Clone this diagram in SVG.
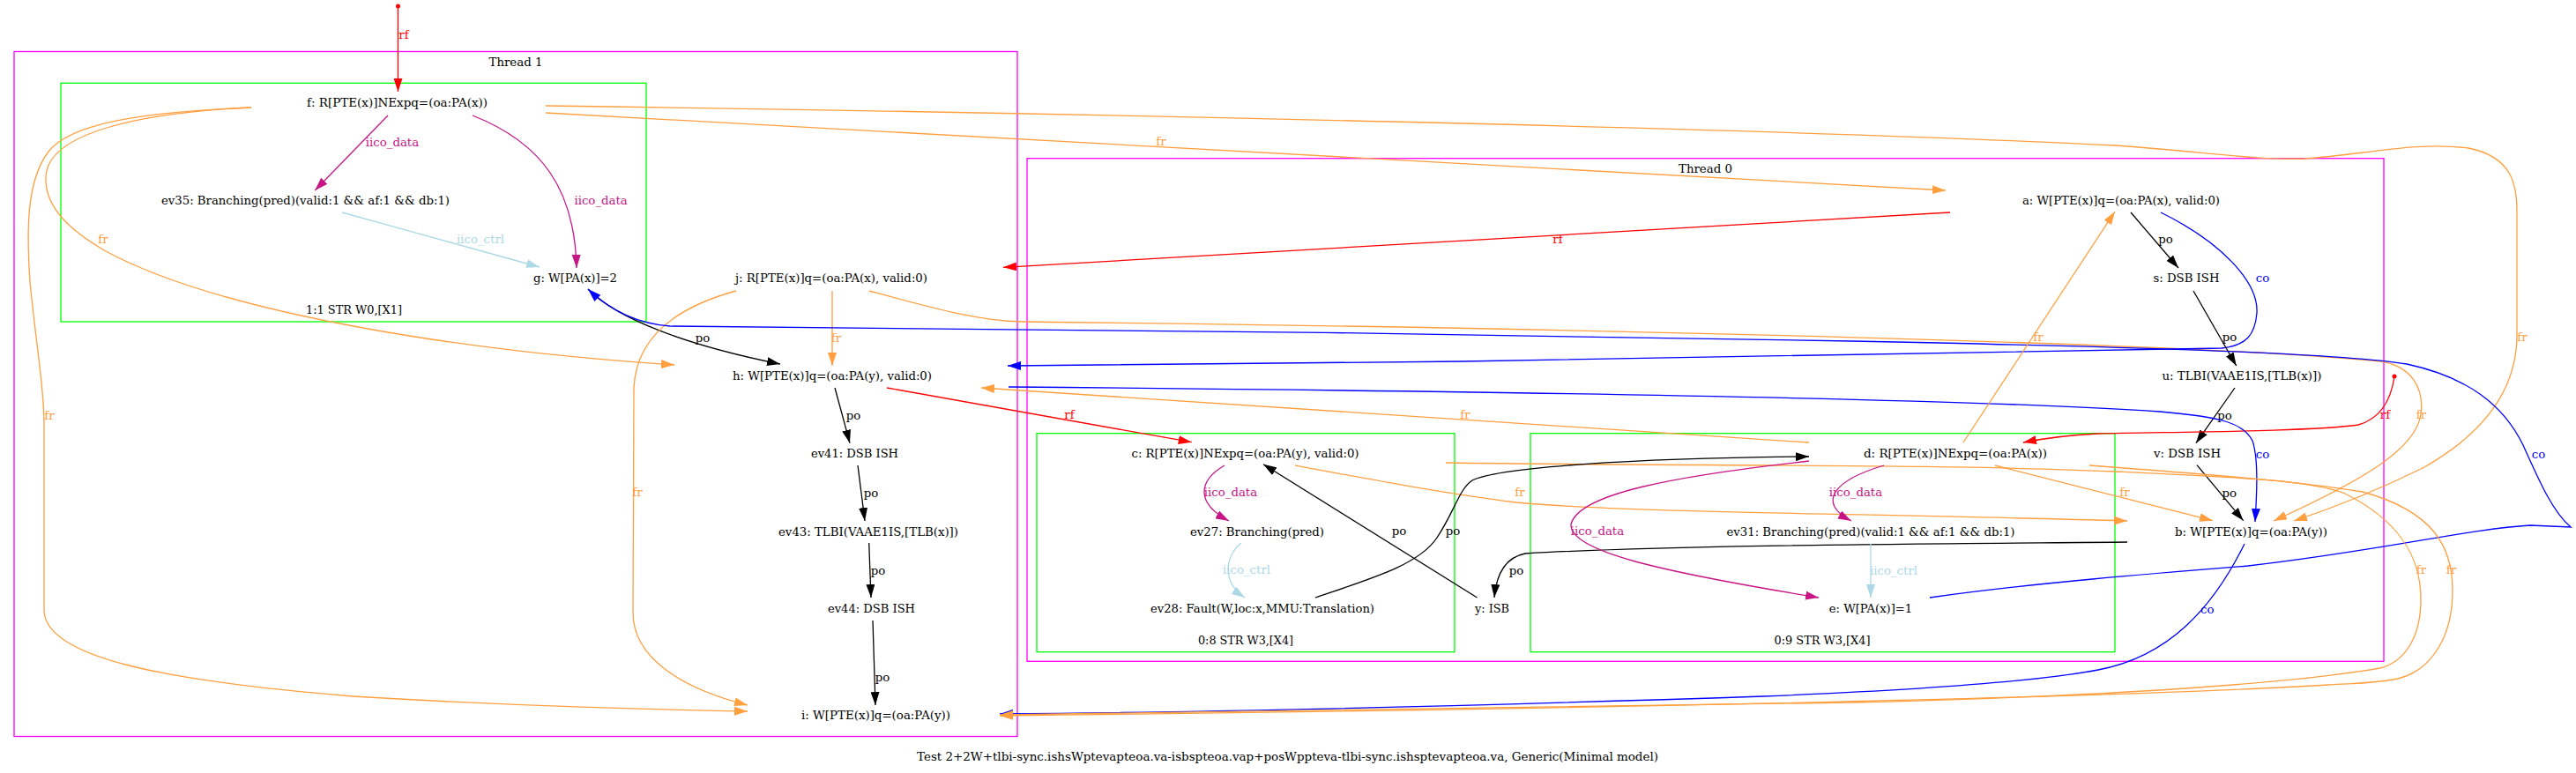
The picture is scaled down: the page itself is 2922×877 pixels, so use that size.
<svg xmlns="http://www.w3.org/2000/svg" width="2922" height="877" viewBox="0 0 2922 877">
<defs>
<style>
text{font-family:"DejaVu Serif","Liberation Serif",serif;font-size:13.3px;text-anchor:middle;fill:#000}
.cl{fill:none;stroke-width:1.3}
.th{stroke:#ff00ff}
.gr{stroke:#00ff00}
path.e{fill:none;stroke-width:1.3}
.red{stroke:#ff0000}.blk{stroke:#000000}.org{stroke:#ff9f3f}.blu{stroke:#0000ff}.mag{stroke:#c71585}.lb{stroke:#add8e6}
text.tred{fill:#ff0000}text.torg{fill:#ff9f3f}text.tblu{fill:#0000ff}text.tmag{fill:#c71585}text.tlb{fill:#add8e6}
</style>
<marker id="m-red" markerUnits="userSpaceOnUse" markerWidth="15" markerHeight="10" refX="15" refY="5" orient="auto"><path d="M0,0L15,5L0,10z" fill="#ff0000"/></marker>
<marker id="m-blk" markerUnits="userSpaceOnUse" markerWidth="15" markerHeight="10" refX="15" refY="5" orient="auto"><path d="M0,0L15,5L0,10z" fill="#000000"/></marker>
<marker id="m-org" markerUnits="userSpaceOnUse" markerWidth="15" markerHeight="10" refX="15" refY="5" orient="auto"><path d="M0,0L15,5L0,10z" fill="#ff9f3f"/></marker>
<marker id="m-blu" markerUnits="userSpaceOnUse" markerWidth="15" markerHeight="10" refX="15" refY="5" orient="auto"><path d="M0,0L15,5L0,10z" fill="#0000ff"/></marker>
<marker id="m-mag" markerUnits="userSpaceOnUse" markerWidth="15" markerHeight="10" refX="15" refY="5" orient="auto"><path d="M0,0L15,5L0,10z" fill="#c71585"/></marker>
<marker id="m-lb" markerUnits="userSpaceOnUse" markerWidth="15" markerHeight="10" refX="15" refY="5" orient="auto"><path d="M0,0L15,5L0,10z" fill="#add8e6"/></marker>
</defs>
<rect x="0" y="0" width="2922" height="877" fill="#ffffff"/>

<g id="clusters">
<g id="thread1"><rect class="cl th" x="16" y="58.5" width="1138" height="777"/><text x="585" y="75" textLength="61" lengthAdjust="spacingAndGlyphs">Thread 1</text></g>
<g id="instr-1-1"><rect class="cl gr" x="69" y="94.3" width="664" height="270.7"/><text x="401.5" y="356" textLength="109" lengthAdjust="spacingAndGlyphs">1:1 STR W0,[X1]</text></g>
<g id="thread0"><rect class="cl th" x="1165" y="179.7" width="1539" height="570.6"/><text x="1934.5" y="196" textLength="61" lengthAdjust="spacingAndGlyphs">Thread 0</text></g>
<g id="instr-0-8"><rect class="cl gr" x="1176" y="491.7" width="474" height="248"/><text x="1413" y="731" textLength="108" lengthAdjust="spacingAndGlyphs">0:8 STR W3,[X4]</text></g>
<g id="instr-0-9"><rect class="cl gr" x="1736" y="491.7" width="663" height="248"/><text x="2067" y="731" textLength="109" lengthAdjust="spacingAndGlyphs">0:9 STR W3,[X4]</text></g>
</g>

<g id="edges">
<!-- rf init -> f -->
<g class="edge"><circle cx="451.5" cy="7" r="2.5" fill="#ff0000"/><path class="e red" d="M451.5,7 L451.5,104" marker-end="url(#m-red)"/><text class="tred" x="458" y="44">rf</text></g>
<!-- iico_data f -> ev35 -->
<g class="edge"><path class="e mag" d="M440,131 L357.3,216" marker-end="url(#m-mag)"/><text class="tmag" x="445" y="165.5">iico_data</text></g>
<!-- iico_data f -> g -->
<g class="edge"><path class="e mag" d="M536,131 C615,162 652,215 654,304" marker-end="url(#m-mag)"/><text class="tmag" x="681.6" y="232">iico_data</text></g>
<!-- iico_ctrl ev35 -> g -->
<g class="edge"><path class="e lb" d="M388,241 L612,303" marker-end="url(#m-lb)"/><text class="tlb" x="545" y="276">iico_ctrl</text></g>
<!-- po g -> h -->
<g class="edge"><path class="e blk" d="M667,328 C700,362 780,392 885,413" marker-end="url(#m-blk)"/><text x="797" y="388">po</text></g>
<!-- fr f -> h -->
<g class="edge"><path class="e org" d="M285,122 C160,128 55,150 52,200 C50,235 80,262 120,285 C250,355 520,398 765,414" marker-end="url(#m-org)"/><text class="torg" x="117" y="276">fr</text></g>
<!-- fr f -> i -->
<g class="edge"><path class="e org" d="M285,122 C160,127 80,140 55,172 C30,205 30,260 34,320 C42,400 50,440 50,480 L50,693 C52,745 180,772 400,790 C600,802 750,805 848,807" marker-end="url(#m-org)"/><text class="torg" x="56" y="475.5">fr</text></g>
<!-- fr j -> h -->
<g class="edge"><path class="e org" d="M944,330 L944,415" marker-end="url(#m-org)"/><text class="torg" x="948.5" y="388">fr</text></g>
<!-- fr j -> i -->
<g class="edge"><path class="e org" d="M835,330 C780,345 722,375 719,440 L718,695 C718,745 770,780 848,800" marker-end="url(#m-org)"/><text class="torg" x="723" y="563">fr</text></g>
<!-- fr j -> b -->
<g class="edge"><path class="e org" d="M986,330 C1060,350 1110,364 1160,365 C1800,372 2500,390 2700,410 C2735,415 2750,440 2746,470 C2740,510 2680,545 2579,591" marker-end="url(#m-org)"/><text class="torg" x="2746.4" y="474.5">fr</text></g>
<!-- fr f -> a -->
<g class="edge"><path class="e org" d="M619,128 L2207,216" marker-end="url(#m-org)"/><text class="torg" x="1317" y="165">fr</text></g>
<!-- fr f -> b -->
<g class="edge"><path class="e org" d="M619,120 C1200,128 2000,145 2400,165 C2500,172 2560,182 2614,180 C2680,176 2740,160 2800,168 C2850,178 2855,210 2855,240 L2855,380 C2855,440 2820,490 2750,530 C2700,555 2650,575 2602,591" marker-end="url(#m-org)"/><text class="torg" x="2861" y="387">fr</text></g>
<!-- rf a -> j -->
<g class="edge"><path class="e red" d="M2212,241 L1138,303.3" marker-end="url(#m-red)"/><text class="tred" x="1767" y="276">rf</text></g>
<!-- co a -> h -->
<g class="edge"><path class="e blu" d="M2451,241 C2520,275 2562,320 2560,355 C2558,380 2548,392 2520,395 C2300,402 1600,412 1143,415" marker-end="url(#m-blu)"/><text class="tblu" x="2566.6" y="320">co</text></g>
<!-- po a -> s -->
<g class="edge"><path class="e blk" d="M2417,241 L2471,304" marker-end="url(#m-blk)"/><text x="2456.5" y="276">po</text></g>
<!-- po s -> u -->
<g class="edge"><path class="e blk" d="M2488,330 L2536.7,415" marker-end="url(#m-blk)"/><text x="2529" y="387">po</text></g>
<!-- po u -> v -->
<g class="edge"><path class="e blk" d="M2535,440 L2491,502.7" marker-end="url(#m-blk)"/><text x="2523.6" y="475.5">po</text></g>
<!-- po v -> b -->
<g class="edge"><path class="e blk" d="M2492,527.7 L2544.6,590.7" marker-end="url(#m-blk)"/><text x="2528.8" y="563.5">po</text></g>
<!-- rf init -> d -->
<g class="edge"><circle cx="2716" cy="427" r="2.5" fill="#ff0000"/><path class="e red" d="M2716,427 C2712,455 2700,475 2675,482 C2620,490 2450,490 2380,492 C2340,494 2310,499 2295,502" marker-end="url(#m-red)"/><text class="tred" x="2705.5" y="474.5">rf</text></g>
<!-- co h -> b -->
<g class="edge"><path class="e blu" d="M1144,439 C1600,443 2200,450 2450,467 C2520,473 2545,480 2555,500 C2562,520 2560,560 2558,592" marker-end="url(#m-blu)"/><text class="tblu" x="2566.6" y="519.5">co</text></g>
<!-- co e -> g -->
<g class="edge"><path class="e blu" d="M2189,678 C2300,662 2450,650 2550,642 C2700,625 2800,600 2870,596 L2916,598 C2895,580 2880,545 2862,505 C2840,460 2800,428 2730,413 C2650,400 2400,393 2100,387 C1700,378 1100,373 760,370 C720,367 690,350 667,328" marker-end="url(#m-blu)"/><text class="tblu" x="2879.5" y="519.5">co</text></g>
<!-- co b -> i -->
<g class="edge"><path class="e blu" d="M2546,617 C2510,690 2460,745 2380,760 C2300,775 2150,784 2000,790 C1700,800 1400,808 1134,810" marker-end="url(#m-blu)"/><text class="tblu" x="2503.7" y="695.5">co</text></g>
<!-- fr c -> i -->
<g class="edge"><path class="e org" d="M1640,525 C1900,529 2200,526 2400,535 C2550,542 2620,545 2660,560 C2720,590 2746,630 2746,680 C2746,720 2730,750 2700,758 C2600,775 2400,790 2100,797 C1700,805 1400,810 1134,811" marker-end="url(#m-org)"/><text class="torg" x="2746.4" y="651">fr</text></g>
<!-- fr d -> i -->
<g class="edge"><path class="e org" d="M2370,528 C2500,538 2600,545 2680,558 C2760,580 2782,620 2782,670 C2782,720 2760,760 2720,770 C2690,776 2670,775 2640,777 C2400,792 1700,806 1134,812" marker-end="url(#m-org)"/><text class="torg" x="2780.5" y="651">fr</text></g>
<!-- fr c -> b -->
<g class="edge"><path class="e org" d="M1469,528 C1560,545 1640,560 1720,570 C1850,582 2100,582 2413,591" marker-end="url(#m-org)"/><text class="torg" x="1724" y="563">fr</text></g>
<!-- fr d -> b -->
<g class="edge"><path class="e org" d="M2263,528 L2510,590.7" marker-end="url(#m-org)"/><text class="torg" x="2410" y="563">fr</text></g>
<!-- fr d -> a -->
<g class="edge"><path class="e org" d="M2227,502 L2399,240" marker-end="url(#m-org)"/><text class="torg" x="2312" y="387">fr</text></g>
<!-- fr d -> h -->
<g class="edge"><path class="e org" d="M2052,502 L1113,440" marker-end="url(#m-org)"/><text class="torg" x="1662" y="474.5">fr</text></g>
<!-- rf h -> c -->
<g class="edge"><path class="e red" d="M1006,440 L1351.7,501.7" marker-end="url(#m-red)"/><text class="tred" x="1213" y="475">rf</text></g>
<!-- iico_data c -> ev27 -->
<g class="edge"><path class="e mag" d="M1389,528 C1360,545 1355,570 1394,591" marker-end="url(#m-mag)"/><text class="tmag" x="1396" y="563">iico_data</text></g>
<!-- iico_ctrl ev27 -> ev28 -->
<g class="edge"><path class="e lb" d="M1408,616 C1390,630 1385,660 1412,678" marker-end="url(#m-lb)"/><text class="tlb" x="1414" y="651">iico_ctrl</text></g>
<!-- po ev28 -> d -->
<g class="edge"><path class="e blk" d="M1492,678 C1560,655 1610,640 1630,610 C1650,580 1655,555 1670,545 C1700,530 1850,520 2052,518" marker-end="url(#m-blk)"/><text x="1648" y="607">po</text></g>
<!-- po y -> c -->
<g class="edge"><path class="e blk" d="M1675.5,678 L1433,526.7" marker-end="url(#m-blk)"/><text x="1587" y="607">po</text></g>
<!-- po b -> y -->
<g class="edge"><path class="e blk" d="M2413,615 C2200,617 1900,618 1730,628 C1705,633 1697,655 1695,678" marker-end="url(#m-blk)"/><text x="1720" y="651.5">po</text></g>
<!-- iico_data d -> ev31 -->
<g class="edge"><path class="e mag" d="M2137,528 C2080,545 2060,570 2100,591" marker-end="url(#m-mag)"/><text class="tmag" x="2105" y="563">iico_data</text></g>
<!-- iico_data d -> e -->
<g class="edge"><path class="e mag" d="M2052,523 C1900,540 1790,560 1782,595 C1780,625 1880,648 2063,678" marker-end="url(#m-mag)"/><text class="tmag" x="1812" y="607">iico_data</text></g>
<!-- iico_ctrl ev31 -> e -->
<g class="edge"><path class="e lb" d="M2122,617 L2122,678" marker-end="url(#m-lb)"/><text class="tlb" x="2148" y="651.5">iico_ctrl</text></g>
<!-- po h -> ev41 -->
<g class="edge"><path class="e blk" d="M947,440 L964,502.7" marker-end="url(#m-blk)"/><text x="968" y="475.5">po</text></g>
<!-- po ev41 -> ev43 -->
<g class="edge"><path class="e blk" d="M973,528 L981,591" marker-end="url(#m-blk)"/><text x="988" y="563.5">po</text></g>
<!-- po ev43 -> ev44 -->
<g class="edge"><path class="e blk" d="M985.7,616 L988,678" marker-end="url(#m-blk)"/><text x="996" y="651.5">po</text></g>
<!-- po ev44 -> i -->
<g class="edge"><path class="e blk" d="M990,704 L993,800" marker-end="url(#m-blk)"/><text x="1001" y="772.5">po</text></g>
</g>

<g id="nodes">
<g id="node-f"><text x="450.5" y="121.2" textLength="205" lengthAdjust="spacingAndGlyphs">f: R[PTE(x)]NExpq=(oa:PA(x))</text></g>
<g id="node-ev35"><text x="346.5" y="232.2" textLength="327" lengthAdjust="spacingAndGlyphs">ev35: Branching(pred)(valid:1 &amp;&amp; af:1 &amp;&amp; db:1)</text></g>
<g id="node-g"><text x="652.5" y="319.8" textLength="95" lengthAdjust="spacingAndGlyphs">g: W[PA(x)]=2</text></g>
<g id="node-j"><text x="943" y="320.2" textLength="218" lengthAdjust="spacingAndGlyphs">j: R[PTE(x)]q=(oa:PA(x), valid:0)</text></g>
<g id="node-h"><text x="944" y="431.2" textLength="226" lengthAdjust="spacingAndGlyphs">h: W[PTE(x)]q=(oa:PA(y), valid:0)</text></g>
<g id="node-ev41"><text x="969.5" y="519.2" textLength="99" lengthAdjust="spacingAndGlyphs">ev41: DSB ISH</text></g>
<g id="node-ev43"><text x="985" y="607.5" textLength="204" lengthAdjust="spacingAndGlyphs">ev43: TLBI(VAAE1IS,[TLB(x)])</text></g>
<g id="node-ev44"><text x="988.5" y="695.2" textLength="99" lengthAdjust="spacingAndGlyphs">ev44: DSB ISH</text></g>
<g id="node-i"><text x="993.5" y="816.2" textLength="169" lengthAdjust="spacingAndGlyphs">i: W[PTE(x)]q=(oa:PA(y))</text></g>
<g id="node-a"><text x="2406" y="232.2" textLength="224" lengthAdjust="spacingAndGlyphs">a: W[PTE(x)]q=(oa:PA(x), valid:0)</text></g>
<g id="node-s"><text x="2480" y="320.2" textLength="75" lengthAdjust="spacingAndGlyphs">s: DSB ISH</text></g>
<g id="node-u"><text x="2543" y="431.2" textLength="181" lengthAdjust="spacingAndGlyphs">u: TLBI(VAAE1IS,[TLB(x)])</text></g>
<g id="node-v"><text x="2481" y="519.2" textLength="76" lengthAdjust="spacingAndGlyphs">v: DSB ISH</text></g>
<g id="node-b"><text x="2553.5" y="607.5" textLength="173" lengthAdjust="spacingAndGlyphs">b: W[PTE(x)]q=(oa:PA(y))</text></g>
<g id="node-c"><text x="1412.5" y="519" textLength="258" lengthAdjust="spacingAndGlyphs">c: R[PTE(x)]NExpq=(oa:PA(y), valid:0)</text></g>
<g id="node-ev27"><text x="1426" y="607.5" textLength="152" lengthAdjust="spacingAndGlyphs">ev27: Branching(pred)</text></g>
<g id="node-ev28"><text x="1432" y="695.2" textLength="254" lengthAdjust="spacingAndGlyphs">ev28: Fault(W,loc:x,MMU:Translation)</text></g>
<g id="node-y"><text x="1692.5" y="695.2" textLength="39" lengthAdjust="spacingAndGlyphs">y: ISB</text></g>
<g id="node-d"><text x="2218" y="519.2" textLength="208" lengthAdjust="spacingAndGlyphs">d: R[PTE(x)]NExpq=(oa:PA(x))</text></g>
<g id="node-ev31"><text x="2122" y="607.5" textLength="327" lengthAdjust="spacingAndGlyphs">ev31: Branching(pred)(valid:1 &amp;&amp; af:1 &amp;&amp; db:1)</text></g>
<g id="node-e"><text x="2122" y="695.2" textLength="94.5" lengthAdjust="spacingAndGlyphs">e: W[PA(x)]=1</text></g>
</g>

<text x="1460.5" y="862.8" textLength="841" lengthAdjust="spacingAndGlyphs">Test 2+2W+tlbi-sync.ishsWptevapteoa.va-isbspteoa.vap+posWppteva-tlbi-sync.ishsptevapteoa.va, Generic(Minimal model)</text>
</svg>
